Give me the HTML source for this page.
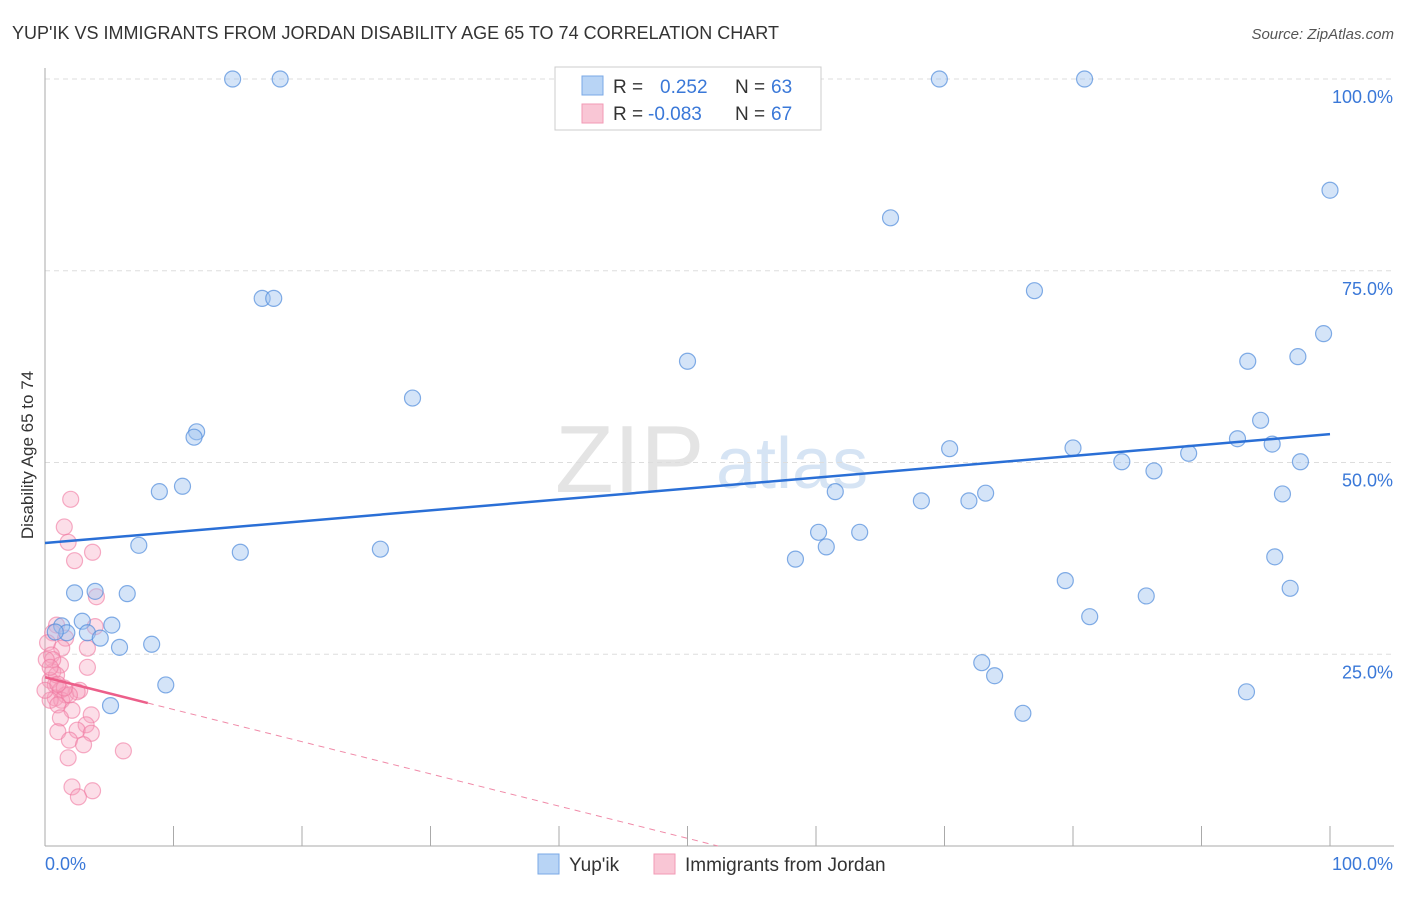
<!DOCTYPE html>
<html><head><meta charset="utf-8"><style>
body{margin:0;background:#fff;font-family:"Liberation Sans",sans-serif;}
svg text{font-family:"Liberation Sans",sans-serif;}
</style></head><body>
<svg id="chart" width="1406" height="892" xmlns="http://www.w3.org/2000/svg">
<text x="12" y="39" font-size="18" fill="#333">YUP'IK VS IMMIGRANTS FROM JORDAN DISABILITY AGE 65 TO 74 CORRELATION CHART</text>
<text x="1394" y="39" font-size="15" fill="#555" text-anchor="end" font-style="italic">Source: ZipAtlas.com</text>
<text x="555" y="492" font-size="96" fill="#e4e4e4" font-family="Liberation Serif">ZIP</text>
<text x="716" y="488" font-size="72" fill="#d6e4f4">atlas</text>
<text transform="translate(33,455) rotate(-90)" font-size="17" fill="#333" text-anchor="middle">Disability Age 65 to 74</text>
<g id="grid"></g><g id="axes"></g><g id="pts"></g><g id="lines"></g>
<g>
<rect x="555" y="67" width="266" height="63" fill="#fff" stroke="#ccc"/>
<rect x="582" y="76" width="21" height="19" fill="#b8d4f5" stroke="#7aa8e6"/>
<rect x="582" y="104" width="21" height="19" fill="#f9c6d5" stroke="#f29ab5"/>
<text x="613" y="93" font-size="19" fill="#333">R =</text><text x="660" y="93" font-size="19" fill="#3a78d8">0.252</text>
<text x="735" y="93" font-size="19" fill="#333">N =</text><text x="771" y="93" font-size="19" fill="#3a78d8">63</text>
<text x="613" y="120" font-size="19" fill="#333">R =</text><text x="648" y="120" font-size="19" fill="#3a78d8">-0.083</text>
<text x="735" y="120" font-size="19" fill="#333">N =</text><text x="771" y="120" font-size="19" fill="#3a78d8">67</text>
</g>
<g>
<rect x="538" y="854" width="21" height="20" fill="#b8d4f5" stroke="#7aa8e6"/>
<text x="569" y="871" font-size="19" fill="#333">Yup'ik</text>
<rect x="654" y="854" width="21" height="20" fill="#f9c6d5" stroke="#f29ab5"/>
<text x="685" y="871" font-size="19" fill="#333">Immigrants from Jordan</text>
</g>
</svg>
<script>
const blueX=[14.6,18.3,69.6,80.9,100,65.8,16.9,17.8,77.0,99.5,50.0,93.6,97.5,28.6,11.8,11.6,94.6,92.8,95.5,70.4,80.0,89.0,83.8,86.3,97.7,10.7,8.9,61.5,73.2,96.3,68.2,71.9,7.3,15.2,26.1,60.2,63.4,60.8,58.4,95.7,79.4,96.9,85.7,81.3,2.3,3.9,6.4,2.9,5.2,1.3,1.7,0.8,3.3,4.3,5.8,8.3,9.4,5.1,72.9,73.9,76.1,93.5];
const blueY=[100,100,100,100,85.5,81.9,71.4,71.4,72.4,66.8,63.2,63.2,63.8,58.4,54.0,53.3,55.5,53.1,52.4,51.8,51.9,51.2,50.1,48.9,50.1,46.9,46.2,46.2,46.0,45.9,45.0,45.0,39.2,38.3,38.7,40.9,40.9,39.0,37.4,37.7,34.6,33.6,32.6,29.9,33.0,33.2,32.9,29.3,28.8,28.7,27.8,27.9,27.8,27.1,25.9,26.3,21.0,18.3,23.9,22.2,17.3,20.1];
const pinkX=[2.0,1.5,1.8,3.7,2.3,4.0,3.9,0.9,0.6,1.6,0.2,1.3,3.3,0.5,1.2,3.3,0.6,0.4,0.8,1.2,1.6,0.8,1.3,2.7,2.5,1.9,0.4,1.0,2.1,3.6,1.2,3.2,2.5,3.6,1.0,1.9,3.0,6.1,1.8,2.1,3.7,2.6,0.6,0.9,0,1.5,1.0,0.1,0.4];
const pinkY=[45.2,41.6,39.6,38.3,37.2,32.5,28.6,28.8,27.8,27.1,26.5,25.8,25.8,24.9,23.6,23.3,22.7,21.6,21.0,20.3,19.7,19.3,19.0,20.3,20.1,19.7,19.0,18.4,17.7,17.1,16.7,15.8,15.1,14.7,14.9,13.8,13.2,12.4,11.5,7.7,7.2,6.4,24.3,22.3,20.3,20.6,21.1,24.3,23.3];
const blueTrend=[39.5,53.7]; // y at x=0 and x=100
const pinkTrend=[22.0,-20.0];
const pinkSolidEnd=8;
const yTicks=[100,75,50,25];
const yTickLabels=["100.0%","75.0%","50.0%","25.0%"];
const xTicks=[10,20,30,40,50,60,70,80,90,100];
const NS="http://www.w3.org/2000/svg";
const X=v=>45+v*12.85, Y=v=>846-v*7.67;
function mk(tag,attrs,parent){const e=document.createElementNS(NS,tag);for(const k in attrs)e.setAttribute(k,attrs[k]);document.getElementById(parent).appendChild(e);return e;}
yTicks.forEach((t,i)=>{
 const l=mk('line',{x1:45,x2:1394,y1:Y(t),y2:Y(t),stroke:'#ddd','stroke-dasharray':'5,4'},'grid');
 
 
 const tx=mk('text',{x:1393,y:Y(t)+24,'font-size':18,fill:'#3a78d8','text-anchor':'end'},'grid');
 tx.textContent=yTickLabels[i];
 
 
});
const ax=mk('line',{x1:45,x2:45,y1:68,y2:846,stroke:'#aaa'},'axes');


const bx=mk('line',{x1:45,x2:1394,y1:846,y2:846,stroke:'#aaa'},'axes');


xTicks.forEach(t=>{const l=mk('line',{x1:X(t),x2:X(t),y1:826,y2:846,stroke:'#aaa'},'axes');
 
 });
const x0=mk('text',{x:45,y:870,'font-size':18,fill:'#3a78d8'},'axes');x0.textContent='0.0%';


const x1=mk('text',{x:1393,y:870,'font-size':18,fill:'#3a78d8','text-anchor':'end'},'axes');x1.textContent='100.0%';


pinkX.forEach((v,i)=>{const c=mk('circle',{cx:X(v),cy:Y(pinkY[i]),r:8,fill:'rgba(246,160,188,0.35)',stroke:'rgba(240,120,160,0.6)','stroke-width':1.2},'pts');
 
 });
blueX.forEach((v,i)=>{const c=mk('circle',{cx:X(v),cy:Y(blueY[i]),r:8,fill:'rgba(160,196,240,0.45)',stroke:'rgba(80,140,220,0.7)','stroke-width':1.2},'pts');
 
 });
const bt=mk('line',{x1:X(0),y1:Y(blueTrend[0]),x2:X(100),y2:Y(blueTrend[1]),stroke:'#2a6fd6','stroke-width':2.5},'lines');


const pf=x=>pinkTrend[0]+(pinkTrend[1]-pinkTrend[0])*x/100;
const pt=mk('line',{x1:X(0),y1:Y(pf(0)),x2:X(pinkSolidEnd),y2:Y(pf(pinkSolidEnd)),stroke:'#ec5f8a','stroke-width':2.5},'lines');


const zx=-pinkTrend[0]/((pinkTrend[1]-pinkTrend[0])/100);
const pd=mk('line',{x1:X(pinkSolidEnd),y1:Y(pf(pinkSolidEnd)),x2:X(zx),y2:Y(0),stroke:'#f08aa8','stroke-width':1,'stroke-dasharray':'6,5'},'lines');


</script>
</body></html>
